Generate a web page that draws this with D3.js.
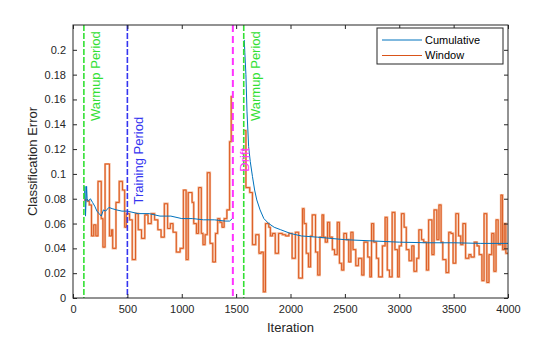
<!DOCTYPE html>
<html>
<head>
<meta charset="utf-8">
<script src="https://cdn.jsdelivr.net/npm/d3@7"></script>
<style>
  body { margin: 0; background: #fff; }
  svg { display: block; font-family: "Liberation Sans", Arial, Helvetica, sans-serif; }
  .axis path { display: none; }
  .axis line { stroke: #262626; }
  .axis text { fill: #262626; font-size: 11px; }
</style>
</head>
<body>
<svg width="560" height="337"></svg>
<script>
// iteration at which each step of the windowed error starts (NaN = reset gap)
var windowIter = [100, 130, 150, 170, 190, 210, 230, 260, 275, 295, 335, 355, 365, 395, 425, 455, 475, 490, 520, 545,
  575, 600, 630, 660, 690, 720, 750, 780, 810, 840, 870, 895, 920, 950, 985, 1015, 1040, 1060, 1095, 1110,
  1135, 1155, 1180, 1195, 1215, 1235, 1260, 1285, 1310, 1330, 1350, 1370, 1390, 1415, 1440, 1455, 1470,
  1575, 1590, 1625, 1650, 1680, 1710, 1730, 1750, 1770, 1800, 1815, 1835, 1860, 1890, 1925, 1955, 1985,
  2015, 2045, 2075, 2110, 2125, 2145, 2165, 2185, 2200, 2230, 2250, 2270, 2290, 2305, 2320, 2340, 2360,
  2385, 2405, 2430, 2450, 2470, 2490, 2515, 2535, 2555, 2575, 2600, 2625, 2655, 2675, 2710, 2730, 2745,
  2765, 2790, 2810, 2845, 2870, 2890, 2910, 2935, 2960, 2985, 3000, 3020, 3045, 3065, 3090, 3115, 3135,
  3160, 3180, 3205, 3225, 3250, 3270, 3300, 3320, 3345, 3365, 3385, 3400, 3430, 3455, 3475, 3495, 3520,
  3545, 3565, 3585, 3610, 3640, 3660, 3690, 3715, 3735, 3760, 3780, 3805, 3825, 3850, 3870, 3890, 3910,
  3935, 3950, 3965, 3980, 4000];
var windowErr = [0.079, 0.078, 0.075, 0.050, 0.059, 0.050, 0.094, 0.064, 0.041, 0.108, 0.050, 0.055, 0.040, 0.077, 0.094, 0.087, 0.057, 0.068, 0.063, 0.031,
  0.068, 0.055, 0.048, 0.067, 0.060, 0.068, 0.063, 0.055, 0.049, 0.076, 0.056, 0.060, 0.053, 0.037, 0.040, 0.087, 0.031, 0.085, 0.077, 0.060,
  0.052, 0.089, 0.052, 0.043, 0.051, 0.101, 0.044, 0.029, 0.052, 0.064, 0.061, 0.057, 0.064, 0.071, 0.126, 0.163, NaN,
  0.135, 0.089, 0.085, 0.043, 0.051, 0.036, 0.037, 0.005, 0.060, 0.057, 0.050, 0.052, 0.036, 0.052, 0.051, 0.050, 0.052,
  0.032, 0.053, 0.016, 0.072, 0.060, 0.036, 0.025, 0.050, 0.067, 0.037, 0.0185, 0.049, 0.067, 0.049, 0.045, 0.061, 0.049,
  0.039, 0.035, 0.061, 0.028, 0.0225, 0.052, 0.047, 0.029, 0.053, 0.039, 0.026, 0.032, 0.0185, 0.045, 0.033, 0.017, 0.060,
  0.045, 0.032, 0.017, 0.042, 0.065, 0.0225, 0.017, 0.069, 0.039, 0.017, 0.042, 0.068, 0.057, 0.039, 0.030, 0.042, 0.0215,
  0.032, 0.055, 0.047, 0.045, 0.0225, 0.063, 0.035, 0.071, 0.047, 0.075, 0.045, 0.031, 0.0205, 0.053, 0.052, 0.028, 0.068,
  0.050, 0.043, 0.060, 0.032, 0.035, 0.033, 0.045, 0.042, 0.035, 0.014, 0.068, 0.0125, 0.035, 0.052, 0.0215, 0.063, 0.043,
  0.083, 0.039, 0.060, 0.036, 0.036];

// cumulative error, restarted after the drift
var cumIter = [105, 110, 115, 120, 125, 130, 140, 160, 180, 200, 220, 240, 260, 280, 300, 330, 360, 400, 450, 500,
  600, 700, 800, 900, 1000, 1100, 1200, 1300, 1400, 1440, 1465, 1470,
  1575, 1580, 1590, 1600, 1615, 1630, 1650, 1670, 1690, 1720, 1755, 1800, 1850, 1910, 2000, 2100, 2250,
  2500, 2750, 3000, 3250, 3500, 3750, 4000];
var cumErr = [0.080, 0.090, 0.066, 0.078, 0.090, 0.080, 0.078, 0.080, 0.077, 0.074, 0.070, 0.068, 0.066, 0.071, 0.070, 0.073, 0.072, 0.071, 0.070, 0.070,
  0.068, 0.068, 0.066, 0.066, 0.064, 0.064, 0.063, 0.063, 0.062, 0.062, 0.064, NaN,
  0.208, 0.198, 0.180, 0.150, 0.122, 0.110, 0.098, 0.087, 0.079, 0.071, 0.064, 0.060, 0.057, 0.055, 0.052, 0.050, 0.049,
  0.047, 0.046, 0.045, 0.0445, 0.0445, 0.044, 0.044];

// period markers
var markerIter = [100, 500, 1470, 1570];
var markerText = ["Warmup Period", "Training Period", "Drift", "Warmup Period"];
var markerTextTop = [0.215, 0.146, 0.121, 0.215];
var markerColor = ["#33e033", "#3535f0", "#ff33ff", "#33e033"];

var xTicks = [0, 500, 1000, 1500, 2000, 2500, 3000, 3500, 4000];
var yTicks = [0, 0.02, 0.04, 0.06, 0.08, 0.1, 0.12, 0.14, 0.16, 0.18, 0.2];
var seriesNames = ["Cumulative", "Window"];
var seriesColors = ["#0072BD", "#D95319"];

var svg = d3.select("svg"),
    margin = {top: 25, right: 52, bottom: 39, left: 73},
    width = +svg.attr("width") - margin.left - margin.right,
    height = +svg.attr("height") - margin.top - margin.bottom,
    g = svg.append("g").attr("transform", "translate(" + margin.left + "," + margin.top + ")");

var x = d3.scaleLinear().domain([0, 4000]).range([0, width]);
var y = d3.scaleLinear().domain([0, 0.22]).range([height, 0]);

g.append("clipPath").attr("id", "plot-clip")
  .append("rect").attr("width", width).attr("height", height);

var windowData = windowIter.map(function (d, i) { return {it: d, v: windowErr[i]}; });
var cumData = cumIter.map(function (d, i) { return {it: d, v: cumErr[i]}; });

var stepLine = d3.line()
    .defined(function (d) { return !isNaN(d.v); })
    .curve(d3.curveStepAfter)
    .x(function (d) { return x(d.it); })
    .y(function (d) { return y(d.v); });

var smoothLine = d3.line()
    .defined(function (d) { return !isNaN(d.v); })
    .x(function (d) { return x(d.it); })
    .y(function (d) { return y(d.v); });

var plot = g.append("g").attr("clip-path", "url(#plot-clip)");

// window error: soft halo under a thin line
plot.append("path")
  .datum(windowData)
  .attr("fill", "none")
  .attr("stroke", "#f2b08c")
  .attr("stroke-width", 2.2)
  .attr("d", stepLine);
plot.append("path")
  .datum(windowData)
  .attr("fill", "none")
  .attr("stroke", seriesColors[1])
  .attr("stroke-width", 0.9)
  .attr("d", stepLine);

plot.append("path")
  .datum(cumData)
  .attr("fill", "none")
  .attr("stroke", seriesColors[0])
  .attr("stroke-width", 1)
  .attr("d", smoothLine);

// vertical markers
plot.selectAll(".marker")
  .data(markerIter)
  .enter().append("line")
  .attr("class", "marker")
  .attr("x1", function (d) { return x(d); })
  .attr("x2", function (d) { return x(d); })
  .attr("y1", 0)
  .attr("y2", height)
  .attr("stroke", function (d, i) { return markerColor[i]; })
  .attr("stroke-width", function (d, i) { return i == 2 ? 2 : 1.6; })
  .attr("stroke-dasharray", function (d, i) { return i == 2 ? "7,4" : "6,2"; });

g.selectAll(".marker-label")
  .data(markerIter)
  .enter().append("text")
  .attr("class", "marker-label")
  .attr("transform", function (d, i) {
      return "translate(" + (x(d) + 16) + "," + y(markerTextTop[i]) + ") rotate(-90)";
  })
  .attr("text-anchor", "end")
  .attr("fill", function (d, i) { return markerColor[i]; })
  .style("font-size", "13px")
  .text(function (d, i) { return markerText[i]; });

// axes with inward ticks on all four sides
var fmt = function (d) { return String(d); };
g.append("g").attr("class", "axis")
  .attr("transform", "translate(0," + height + ")")
  .call(d3.axisBottom(x).tickValues(xTicks).tickSize(-4).tickPadding(7).tickFormat(fmt));
g.append("g").attr("class", "axis")
  .call(d3.axisTop(x).tickValues(xTicks).tickSize(-4).tickFormat(""));
g.append("g").attr("class", "axis")
  .call(d3.axisLeft(y).tickValues(yTicks).tickSize(-4).tickPadding(7).tickFormat(fmt));
g.append("g").attr("class", "axis")
  .attr("transform", "translate(" + width + ",0)")
  .call(d3.axisRight(y).tickValues(yTicks).tickSize(-4).tickFormat(""));

g.append("rect")
  .attr("width", width)
  .attr("height", height)
  .attr("fill", "none")
  .attr("stroke", "#262626")
  .attr("stroke-width", 1);

g.append("text")
  .attr("x", width / 2)
  .attr("y", height + 34)
  .attr("text-anchor", "middle")
  .attr("fill", "#262626")
  .style("font-size", "13px")
  .text("Iteration");

g.append("text")
  .attr("transform", "translate(-36," + (height / 2) + ") rotate(-90)")
  .attr("text-anchor", "middle")
  .attr("fill", "#262626")
  .style("font-size", "13px")
  .text("Classification Error");

// legend
var legend = g.append("g").attr("transform", "translate(" + (width - 131) + ",3)");
legend.append("rect")
  .attr("width", 126)
  .attr("height", 36)
  .attr("fill", "#fff")
  .attr("stroke", "#262626");
seriesNames.forEach(function (name, i) {
  legend.append("line")
    .attr("x1", 5).attr("x2", 45)
    .attr("y1", 12 + i * 15.5).attr("y2", 12 + i * 15.5)
    .attr("stroke", seriesColors[i]);
  legend.append("text")
    .attr("x", 48)
    .attr("y", 12 + i * 15.5)
    .attr("dy", "0.35em")
    .attr("fill", "#000")
    .style("font-size", "11px")
    .text(name);
});
</script>
</body>
</html>
